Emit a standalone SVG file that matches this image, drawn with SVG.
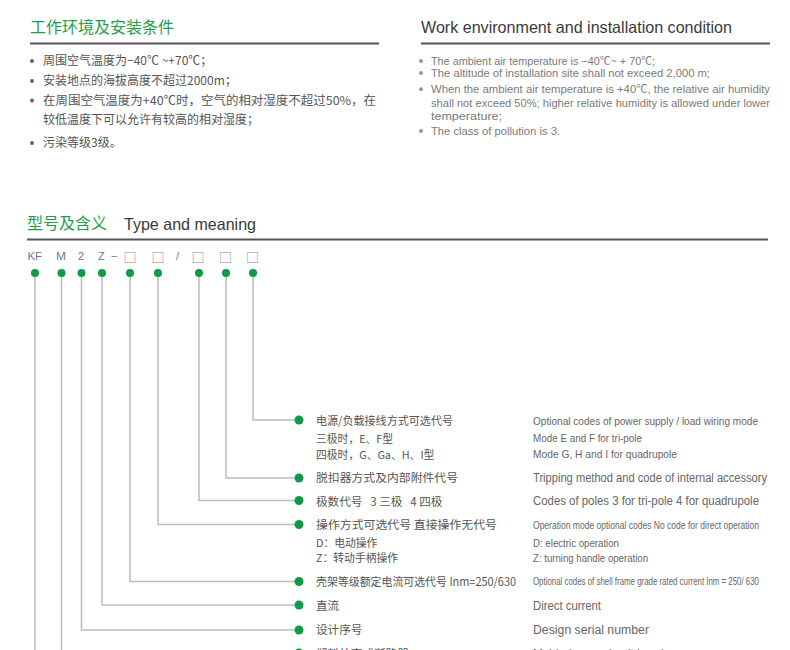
<svg xmlns="http://www.w3.org/2000/svg" width="790" height="650" viewBox="0 0 790 650">
<style>
.cn{font-family:"Noto Sans CJK SC","Liberation Sans",sans-serif}
.en{font-family:"Liberation Sans","Noto Sans CJK SC",sans-serif}
.h-cn{font-size:16px;fill:#1e9e4a}
.h-en{font-size:16.5px;fill:#3a3a3a}
.rule{stroke:#555;stroke-width:2}
.bl{font-size:12px;fill:#555}
.br{font-size:11px;fill:#7a7a7a}
.bd{fill:#666}
.bdr{fill:#999}
.code{font-size:11px;fill:#777}
.box{font-size:13px;fill:#888}
.dot{fill:#0f9a46}
.lbl{font-size:11.6px;fill:#555}
.sub{font-size:10.8px;fill:#555}
.el{fill:#666}
.conn{fill:none;stroke:#bdbdbd;stroke-width:1.5}
</style>
<rect width="790" height="650" fill="#fff"/>

<g id="env-cn">
<text class="cn h-cn" x="30" y="33">工作环境及安装条件</text>
<line class="rule" x1="30" y1="43.5" x2="379" y2="43.5"/>
<circle class="bd" cx="32" cy="61" r="2"/>
<text class="cn bl" x="43" y="65">周围空气温度为−40℃ ~+70℃；</text>
<circle class="bd" cx="32" cy="81" r="2"/>
<text class="cn bl" x="43" y="85">安装地点的海拔高度不超过2000m；</text>
<circle class="bd" cx="32" cy="100.5" r="2"/>
<text class="cn bl" x="43" y="104.5" textLength="333" lengthAdjust="spacingAndGlyphs">在周围空气温度为+40℃时，空气的相对湿度不超过50%，在</text>
<text class="cn bl" x="43" y="124">较低温度下可以允许有较高的相对湿度；</text>
<circle class="bd" cx="32" cy="143" r="2"/>
<text class="cn bl" x="43" y="147">污染等级3级。</text>
</g>

<g id="env-en">
<text class="en h-en" x="421" y="33" textLength="311" lengthAdjust="spacingAndGlyphs">Work environment and installation condition</text>
<line class="rule" x1="421" y1="43.5" x2="770" y2="43.5"/>
<circle class="bdr" cx="421" cy="61" r="2"/>
<text class="en br" x="431" y="64.5" textLength="224" lengthAdjust="spacingAndGlyphs">The ambient air temperature is −40℃~ + 70℃;</text>
<circle class="bdr" cx="421" cy="73" r="2"/>
<text class="en br" x="431" y="77" textLength="279" lengthAdjust="spacingAndGlyphs">The altitude of installation site shall not exceed 2,000 m;</text>
<circle class="bdr" cx="421" cy="89.3" r="2"/>
<text class="en br" x="431" y="93" textLength="339" lengthAdjust="spacingAndGlyphs">When the ambient air temperature is +40℃, the relative air humidity</text>
<text class="en br" x="431" y="106.5" textLength="339" lengthAdjust="spacingAndGlyphs">shall not exceed 50%; higher relative humidity is allowed under lower</text>
<text class="en br" x="431" y="120" textLength="71" lengthAdjust="spacingAndGlyphs">temperature;</text>
<circle class="bdr" cx="421" cy="131" r="2"/>
<text class="en br" x="431" y="135" textLength="129" lengthAdjust="spacingAndGlyphs">The class of pollution is 3.</text>
</g>

<g id="type-header">
<text class="cn h-cn" x="27" y="229">型号及含义</text>
<text class="en h-en" x="124" y="229.5" textLength="132" lengthAdjust="spacingAndGlyphs">Type and meaning</text>
<line class="rule" x1="27" y1="239.5" x2="768" y2="239.5"/>
</g>

<g id="connectors">
<path class="conn" d="M253 273 V420 H299"/>
<path class="conn" d="M226 273 V478 H299"/>
<path class="conn" d="M199 273 V500.5 H299"/>
<path class="conn" d="M158 273 V524.5 H299"/>
<path class="conn" d="M130 273 V581.5 H299"/>
<path class="conn" d="M102 273 V605 H299"/>
<path class="conn" d="M81.5 273 V630 H299"/>
<path class="conn" d="M61.5 273 V653 H299"/>
<path class="conn" d="M35 273 V660"/>
</g>

<g id="node-KF">
<text class="en code" x="27.5" y="260" textLength="14.5" lengthAdjust="spacingAndGlyphs">KF</text>
<circle class="dot" cx="35" cy="273" r="4"/>
</g>
<g id="node-M">
<text class="en code" x="56" y="260" textLength="10" lengthAdjust="spacingAndGlyphs">M</text>
<circle class="dot" cx="61.5" cy="273" r="4"/>
<circle class="dot" cx="299" cy="653" r="4.5"/>
<text class="cn lbl" x="316" y="657.5">塑料外壳式断路器</text>
<text class="en el" x="533" y="658" font-size="12" textLength="144" lengthAdjust="spacingAndGlyphs">Molded case circuit breaker</text>
</g>
<g id="node-2">
<text class="en code" x="78" y="260">2</text>
<circle class="dot" cx="81.5" cy="273" r="4"/>
<circle class="dot" cx="299" cy="630" r="4.5"/>
<text class="cn lbl" x="316" y="634">设计序号</text>
<text class="en el" x="533" y="634" font-size="12" textLength="116" lengthAdjust="spacingAndGlyphs">Design serial number</text>
</g>
<g id="node-Z">
<text class="en code" x="98" y="260">Z</text>
<text class="en code" x="111" y="260">−</text>
<circle class="dot" cx="102" cy="273" r="4"/>
<circle class="dot" cx="299" cy="605" r="4.5"/>
<text class="cn lbl" x="316" y="609.5">直流</text>
<text class="en el" x="533" y="609.5" font-size="12" textLength="68" lengthAdjust="spacingAndGlyphs">Direct current</text>
</g>
<g id="node-frame">
<text class="cn box" x="123.5" y="262">□</text>
<circle class="dot" cx="130" cy="273" r="4"/>
<circle class="dot" cx="299" cy="581.5" r="4.5"/>
<text class="cn lbl" x="316" y="585.5" textLength="200" lengthAdjust="spacingAndGlyphs">壳架等级额定电流可选代号 Inm=250/630</text>
<text class="en el" x="533" y="585" font-size="10.5" textLength="226" lengthAdjust="spacingAndGlyphs">Optional codes of shell frame grade rated current Inm = 250/ 630</text>
</g>
<g id="node-operation">
<text class="cn box" x="151.5" y="262">□</text>
<circle class="dot" cx="158" cy="273" r="4"/>
<circle class="dot" cx="299" cy="524.5" r="4.5"/>
<text class="cn lbl" x="316" y="529" textLength="181" lengthAdjust="spacingAndGlyphs">操作方式可选代号 直接操作无代号</text>
<text class="cn sub" x="316" y="546.5">D：电动操作</text>
<text class="cn sub" x="316" y="562">Z：转动手柄操作</text>
<text class="en el" x="533" y="528.5" font-size="10.5" textLength="226" lengthAdjust="spacingAndGlyphs">Operation mode optional codes  No code for direct operation</text>
<text class="en el" x="533" y="546.5" font-size="11" textLength="86" lengthAdjust="spacingAndGlyphs">D: electric operation</text>
<text class="en el" x="533" y="562" font-size="11" textLength="115" lengthAdjust="spacingAndGlyphs">Z: turning handle operation</text>
</g>
<text class="en code" x="176" y="260">/</text>
<g id="node-poles">
<text class="cn box" x="191.5" y="262">□</text>
<circle class="dot" cx="199" cy="273" r="4"/>
<circle class="dot" cx="299" cy="500.5" r="4.5"/>
<text class="cn lbl" x="316" y="505.5" xml:space="preserve">极数代号   3 三极   4 四极</text>
<text class="en el" x="533" y="505" font-size="12" textLength="226" lengthAdjust="spacingAndGlyphs">Codes of poles 3 for tri-pole 4 for quadrupole</text>
</g>
<g id="node-tripping">
<text class="cn box" x="219" y="262">□</text>
<circle class="dot" cx="226" cy="273" r="4"/>
<circle class="dot" cx="299" cy="478" r="4.5"/>
<text class="cn lbl" x="316" y="482" textLength="142" lengthAdjust="spacingAndGlyphs">脱扣器方式及内部附件代号</text>
<text class="en el" x="533" y="481.5" font-size="12" textLength="234" lengthAdjust="spacingAndGlyphs">Tripping method and code of internal accessory</text>
</g>
<g id="node-wiring">
<text class="cn box" x="246" y="262">□</text>
<circle class="dot" cx="253" cy="273" r="4"/>
<circle class="dot" cx="299" cy="420" r="4.5"/>
<text class="cn lbl" x="316" y="425" textLength="137" lengthAdjust="spacingAndGlyphs">电源/负载接线方式可选代号</text>
<text class="cn sub" x="316" y="442.5">三极时，E、F型</text>
<text class="cn sub" x="316" y="458.5">四极时，G、Ga、H、I型</text>
<text class="en el" x="533" y="424.5" font-size="11" textLength="225" lengthAdjust="spacingAndGlyphs">Optional codes of power supply / load wiring mode</text>
<text class="en el" x="533" y="442" font-size="10.5" textLength="109" lengthAdjust="spacingAndGlyphs">Mode E and F for tri-pole</text>
<text class="en el" x="533" y="458" font-size="10.5" textLength="144" lengthAdjust="spacingAndGlyphs">Mode G, H and I for quadrupole</text>
</g>
</svg>
